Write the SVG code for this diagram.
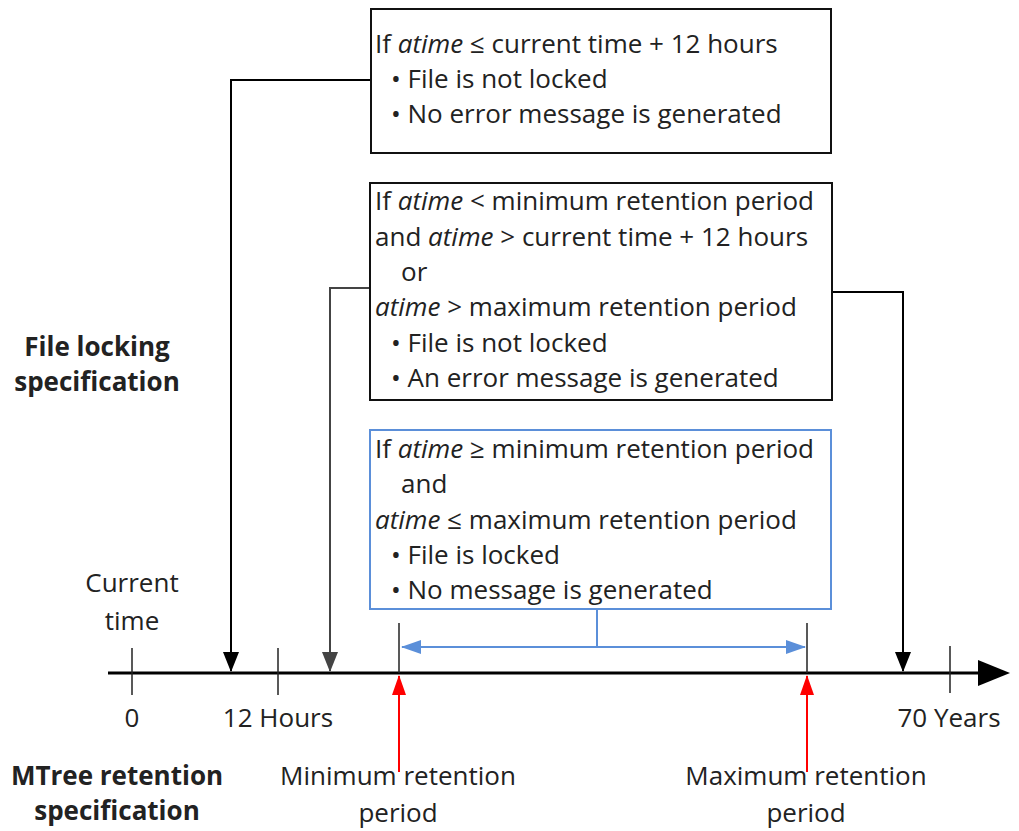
<svg xmlns="http://www.w3.org/2000/svg" width="1019" height="831" viewBox="0 0 1019 831">
<defs>
<style>
text{font-family:"Open Sans","Noto Sans",sans-serif;font-size:26px;fill:#222}
.b{font-weight:bold}
.i{font-style:italic}
.box{fill:#fff;stroke:#111;stroke-width:2}
.bbox{fill:#fff;stroke:#5b8fd9;stroke-width:2}
.k{fill:none;stroke:#000;stroke-width:2}
.g{fill:none;stroke:#444;stroke-width:2}
.bl{fill:none;stroke:#5b8fd9;stroke-width:2}
.r{fill:none;stroke:#f00;stroke-width:2}
.m{text-anchor:middle}
</style>
<marker id="ak" markerWidth="20" markerHeight="16" refX="19" refY="8" orient="auto" markerUnits="userSpaceOnUse" viewBox="0 0 20 16"><path d="M0,0L20,8L0,16z" fill="#000"/></marker>
<marker id="ag" markerWidth="20" markerHeight="16" refX="19" refY="8" orient="auto" markerUnits="userSpaceOnUse" viewBox="0 0 20 16"><path d="M0,0L20,8L0,16z" fill="#444"/></marker>
<marker id="ab" markerWidth="20" markerHeight="14" refX="19" refY="7" orient="auto" markerUnits="userSpaceOnUse" viewBox="0 0 20 14"><path d="M0,0L20,7L0,14z" fill="#5b8fd9"/></marker>
<marker id="ar" markerWidth="20" markerHeight="14" refX="19" refY="7" orient="auto" markerUnits="userSpaceOnUse" viewBox="0 0 20 14"><path d="M0,0L20,7L0,14z" fill="#f00"/></marker>
</defs>
<rect width="1019" height="831" fill="#fff"/>

<g id="axis">
<line x1="108" y1="673" x2="985" y2="673" stroke="#000" stroke-width="3"/>
<path d="M978,660L1010,673L978,686z" fill="#000"/>
<line x1="132" y1="648" x2="132" y2="695" stroke="#222" stroke-width="1.5"/>
<line x1="278" y1="648" x2="278" y2="695" stroke="#222" stroke-width="1.5"/>
<line x1="950" y1="646" x2="950" y2="693" stroke="#222" stroke-width="1.5"/>
<line x1="399" y1="623" x2="399" y2="673" stroke="#222" stroke-width="1.5"/>
<line x1="807" y1="623" x2="807" y2="673" stroke="#222" stroke-width="1.5"/>
</g>

<g id="connectors">
<path class="k" d="M371,80H231V671" marker-end="url(#ak)"/>
<path class="g" d="M370,288H330V671" marker-end="url(#ag)"/>
<path class="k" d="M832,292H903V671" marker-end="url(#ak)"/>
<path class="bl" d="M597,609V647"/>
<path class="bl" d="M597,647H402" marker-end="url(#ab)"/>
<path class="bl" d="M597,647H805" marker-end="url(#ab)"/>
<path class="r" d="M399,772V676" marker-end="url(#ar)"/>
<path class="r" d="M807,772V676" marker-end="url(#ar)"/>
</g>

<g id="box1">
<rect class="box" x="371" y="9" width="460" height="144"/>
<text x="375" y="53">If <tspan class="i">atime</tspan> ≤ current time + 12 hours</text>
<text x="391" y="88">• File is not locked</text>
<text x="391" y="123">• No error message is generated</text>
</g>

<g id="box2">
<rect class="box" x="370" y="183" width="462" height="217"/>
<text x="375" y="210">If <tspan class="i">atime</tspan> &lt; minimum retention period</text>
<text x="375" y="246">and <tspan class="i">atime</tspan> &gt; current time + 12 hours</text>
<text x="401" y="281">or</text>
<text x="375" y="316"><tspan class="i">atime</tspan> &gt; maximum retention period</text>
<text x="391" y="352">• File is not locked</text>
<text x="391" y="387">• An error message is generated</text>
</g>

<g id="box3">
<rect class="bbox" x="370" y="430" width="461" height="179"/>
<text x="375" y="458">If <tspan class="i">atime</tspan> ≥ minimum retention period</text>
<text x="401" y="493">and</text>
<text x="375" y="529"><tspan class="i">atime</tspan> ≤ maximum retention period</text>
<text x="391" y="564">• File is locked</text>
<text x="391" y="599">• No message is generated</text>
</g>

<g id="labels">
<text class="b m" x="97" y="356">File locking</text>
<text class="b m" x="97" y="391">specification</text>
<text class="m" x="132" y="592">Current</text>
<text class="m" x="132" y="630">time</text>
<text class="m" x="132" y="727">0</text>
<text class="m" x="278" y="727">12 Hours</text>
<text class="m" x="949" y="727">70 Years</text>
<text class="b m" x="117" y="785">MTree retention</text>
<text class="b m" x="117" y="820">specification</text>
<text class="m" x="398" y="785">Minimum retention</text>
<text class="m" x="398" y="822">period</text>
<text class="m" x="806" y="785">Maximum retention</text>
<text class="m" x="806" y="822">period</text>
</g>
</svg>
